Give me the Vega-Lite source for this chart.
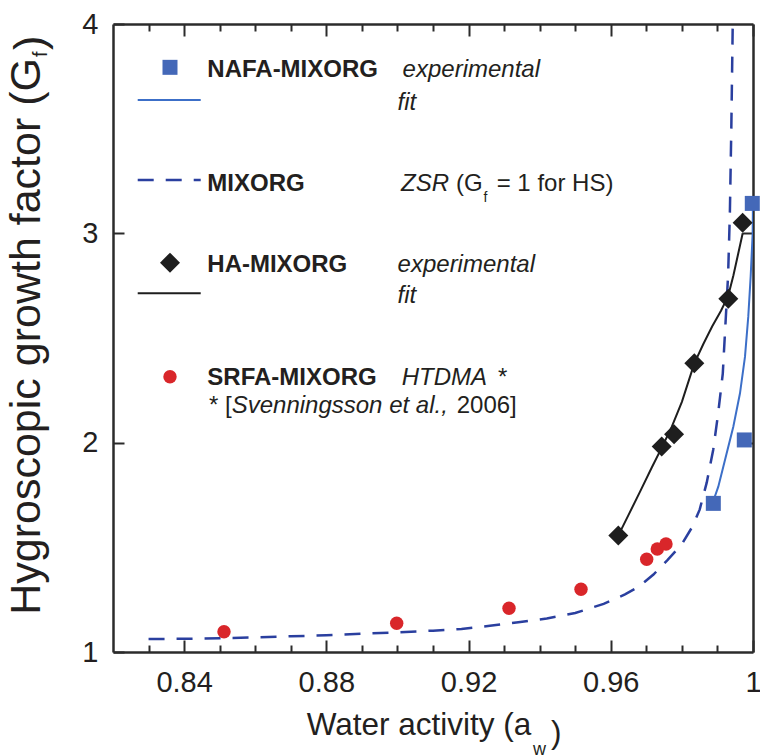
{
  "$schema": "https://vega.github.io/schema/vega-lite/v6.json",
  "width": 640,
  "height": 628,
  "autosize": "none",
  "padding": {"left": 113, "top": 24, "right": 7, "bottom": 104},
  "background": "white",
  "config": {
    "view": {"stroke": null},
    "font": "Liberation Sans",
    "axis": {
      "domainColor": "#2b2b2b",
      "domainWidth": 2.5,
      "tickColor": "#2b2b2b",
      "tickWidth": 2,
      "labelFont": "Liberation Sans",
      "labelFontSize": 29,
      "labelColor": "#231f20",
      "grid": false,
      "title": null,
      "labelFlush": false,
      "labelOverlap": false
    }
  },
  "datasets": {
    "points": [
      {"series": "NAFA-MIXORG", "kind": "key", "aw": 0.83603, "gf": 3.793},
      {"series": "NAFA-MIXORG", "kind": "obs", "aw": 0.98884, "gf": 1.710},
      {"series": "NAFA-MIXORG", "kind": "obs", "aw": 0.99755, "gf": 2.013},
      {"series": "NAFA-MIXORG", "kind": "obs", "aw": 0.9998, "gf": 3.143},
      {"series": "HA-MIXORG", "kind": "key", "aw": 0.83603, "gf": 2.860},
      {"series": "HA-MIXORG", "kind": "obs", "aw": 0.96212, "gf": 1.556},
      {"series": "HA-MIXORG", "kind": "obs", "aw": 0.97432, "gf": 1.982},
      {"series": "HA-MIXORG", "kind": "obs", "aw": 0.97780, "gf": 2.040},
      {"series": "HA-MIXORG", "kind": "obs", "aw": 0.98349, "gf": 2.379},
      {"series": "HA-MIXORG", "kind": "obs", "aw": 0.99305, "gf": 2.688},
      {"series": "HA-MIXORG", "kind": "obs", "aw": 0.99709, "gf": 3.051},
      {"series": "SRFA-MIXORG", "kind": "key", "aw": 0.83603, "gf": 2.315},
      {"series": "SRFA-MIXORG", "kind": "obs", "aw": 0.85122, "gf": 1.097},
      {"series": "SRFA-MIXORG", "kind": "obs", "aw": 0.89979, "gf": 1.137},
      {"series": "SRFA-MIXORG", "kind": "obs", "aw": 0.93138, "gf": 1.209},
      {"series": "SRFA-MIXORG", "kind": "obs", "aw": 0.95163, "gf": 1.300},
      {"series": "SRFA-MIXORG", "kind": "obs", "aw": 0.9701, "gf": 1.443},
      {"series": "SRFA-MIXORG", "kind": "obs", "aw": 0.97308, "gf": 1.492},
      {"series": "SRFA-MIXORG", "kind": "obs", "aw": 0.97553, "gf": 1.516}
    ],
    "zsr": [
      {"seg": "key", "aw": 0.82695, "gf": 3.255},
      {"seg": "key", "aw": 0.84467, "gf": 3.255},
      {"seg": "curve", "aw": 0.830, "gf": 1.062},
      {"seg": "curve", "aw": 0.840, "gf": 1.063},
      {"seg": "curve", "aw": 0.850, "gf": 1.066},
      {"seg": "curve", "aw": 0.860, "gf": 1.070},
      {"seg": "curve", "aw": 0.870, "gf": 1.075},
      {"seg": "curve", "aw": 0.880, "gf": 1.080},
      {"seg": "curve", "aw": 0.890, "gf": 1.087},
      {"seg": "curve", "aw": 0.900, "gf": 1.094},
      {"seg": "curve", "aw": 0.910, "gf": 1.102},
      {"seg": "curve", "aw": 0.918, "gf": 1.110},
      {"seg": "curve", "aw": 0.926, "gf": 1.125},
      {"seg": "curve", "aw": 0.934, "gf": 1.142},
      {"seg": "curve", "aw": 0.942, "gf": 1.160},
      {"seg": "curve", "aw": 0.950, "gf": 1.186},
      {"seg": "curve", "aw": 0.958, "gf": 1.230},
      {"seg": "curve", "aw": 0.964, "gf": 1.275},
      {"seg": "curve", "aw": 0.968, "gf": 1.313},
      {"seg": "curve", "aw": 0.972, "gf": 1.370},
      {"seg": "curve", "aw": 0.976, "gf": 1.440},
      {"seg": "curve", "aw": 0.980, "gf": 1.515},
      {"seg": "curve", "aw": 0.983, "gf": 1.600},
      {"seg": "curve", "aw": 0.985, "gf": 1.680},
      {"seg": "curve", "aw": 0.987, "gf": 1.810},
      {"seg": "curve", "aw": 0.9888, "gf": 1.965},
      {"seg": "curve", "aw": 0.9902, "gf": 2.140},
      {"seg": "curve", "aw": 0.9915, "gf": 2.330},
      {"seg": "curve", "aw": 0.9922, "gf": 2.550},
      {"seg": "curve", "aw": 0.9930, "gf": 2.800},
      {"seg": "curve", "aw": 0.9935, "gf": 3.100},
      {"seg": "curve", "aw": 0.9939, "gf": 3.500},
      {"seg": "curve", "aw": 0.9943, "gf": 4.000}
    ],
    "nafaFit": [
      {"seg": "key", "aw": 0.82695, "gf": 3.637},
      {"seg": "key", "aw": 0.84467, "gf": 3.637},
      {"seg": "curve", "aw": 0.98866, "gf": 1.713},
      {"seg": "curve", "aw": 0.99024, "gf": 1.790},
      {"seg": "curve", "aw": 0.99212, "gf": 1.917},
      {"seg": "curve", "aw": 0.99446, "gf": 2.076},
      {"seg": "curve", "aw": 0.99634, "gf": 2.236},
      {"seg": "curve", "aw": 0.99775, "gf": 2.411},
      {"seg": "curve", "aw": 0.99867, "gf": 2.602},
      {"seg": "curve", "aw": 0.99934, "gf": 2.793},
      {"seg": "curve", "aw": 0.99991, "gf": 3.000},
      {"seg": "curve", "aw": 0.99998, "gf": 3.143}
    ],
    "haFit": [
      {"seg": "key", "aw": 0.82695, "gf": 2.7135},
      {"seg": "key", "aw": 0.84467, "gf": 2.7135},
      {"seg": "curve", "aw": 0.9621, "gf": 1.556},
      {"seg": "curve", "aw": 0.9650, "gf": 1.655},
      {"seg": "curve", "aw": 0.9682, "gf": 1.765},
      {"seg": "curve", "aw": 0.9715, "gf": 1.880},
      {"seg": "curve", "aw": 0.9743, "gf": 1.975},
      {"seg": "curve", "aw": 0.9770, "gf": 2.070},
      {"seg": "curve", "aw": 0.9800, "gf": 2.195},
      {"seg": "curve", "aw": 0.9835, "gf": 2.379},
      {"seg": "curve", "aw": 0.9860, "gf": 2.470},
      {"seg": "curve", "aw": 0.9885, "gf": 2.555},
      {"seg": "curve", "aw": 0.9910, "gf": 2.630},
      {"seg": "curve", "aw": 0.9930, "gf": 2.700},
      {"seg": "curve", "aw": 0.9945, "gf": 2.800},
      {"seg": "curve", "aw": 0.9958, "gf": 2.900},
      {"seg": "curve", "aw": 0.9971, "gf": 3.000}
    ],
    "labels": [
      {"part": "name", "aw": 0.84652, "gf": 3.7474, "text": "NAFA-MIXORG"},
      {"part": "name", "aw": 0.84652, "gf": 3.2038, "text": "MIXORG"},
      {"part": "name", "aw": 0.84652, "gf": 2.814, "text": "HA-MIXORG"},
      {"part": "name", "aw": 0.84652, "gf": 2.2755, "text": "SRFA-MIXORG"},
      {"part": "method", "aw": 0.90145, "gf": 3.7474, "text": "experimental"},
      {"part": "method", "aw": 0.90004, "gf": 3.589, "text": "fit"},
      {"part": "method", "aw": 0.90100, "gf": 3.2038, "text": "ZSR"},
      {"part": "method", "aw": 0.90004, "gf": 2.814, "text": "experimental"},
      {"part": "method", "aw": 0.90004, "gf": 2.666, "text": "fit"},
      {"part": "method", "aw": 0.90120, "gf": 2.2755, "text": "HTDMA"},
      {"part": "method", "aw": 0.85338, "gf": 2.1401, "text": "Svenningsson et al.,"},
      {"part": "plain", "aw": 0.91647, "gf": 3.2038, "text": "(G"},
      {"part": "sub", "aw": 0.92420, "gf": 3.151, "text": "f"},
      {"part": "plain", "aw": 0.92791, "gf": 3.2038, "text": "= 1 for HS)"},
      {"part": "plain", "aw": 0.92828, "gf": 2.2755, "text": "*"},
      {"part": "plain", "aw": 0.84700, "gf": 2.1401, "text": "* ["},
      {"part": "plain", "aw": 0.91667, "gf": 2.1401, "text": "2006]"}
    ],
    "titles": [
      {"part": "x", "aw": 0.87448, "gf": 0.6035, "text": "Water activity (a"},
      {"part": "xsub", "aw": 0.93813, "gf": 0.508, "text": "w"},
      {"part": "x", "aw": 0.94319, "gf": 0.5653, "text": ")"},
      {"part": "y", "aw": 0.79947, "gf": 3.8376, "text": "Hygroscopic growth factor (G"},
      {"part": "ysub", "aw": 0.80144, "gf": 3.8424, "text": "f"},
      {"part": "yclose", "aw": 0.80059, "gf": 3.8758, "text": ")"}
    ]
  },
  "resolve": {"axis": {"x": "independent", "y": "independent"}},
  "layer": [
    {
      "data": {"name": "zsr"},
      "mark": {"type": "line", "color": "#2a3f9f", "strokeWidth": 2.5, "strokeDash": [16, 12], "clip": true},
      "encoding": {
        "x": {
          "field": "aw", "type": "quantitative",
          "scale": {"domain": [0.82, 1.0], "nice": false, "zero": false},
          "axis": {
            "orient": "bottom",
            "values": [0.83, 0.84, 0.85, 0.86, 0.87, 0.88, 0.89, 0.9, 0.91, 0.92, 0.93, 0.94, 0.95, 0.96, 0.97, 0.98, 0.99, 1.0],
            "labelExpr": "indexof(['0.84','0.88','0.92','0.96'], format(datum.value, '.2f')) >= 0 ? format(datum.value, '.2f') : (datum.value > 0.999 ? '1' : '')",
            "tickSize": {"condition": {"test": "indexof(['0.84','0.88','0.92','0.96','1.00'], format(datum.value, '.2f')) >= 0", "value": -12}, "value": -7},
            "labelPadding": 28
          }
        },
        "y": {
          "field": "gf", "type": "quantitative",
          "scale": {"domain": [1, 4], "nice": false, "zero": false},
          "axis": {
            "orient": "left",
            "values": [1, 2, 3, 4],
            "tickSize": -11,
            "labelPadding": 26,
            "format": "d"
          }
        },
        "detail": {"field": "seg"}
      }
    },
    {
      "data": {"name": "haFit"},
      "mark": {"type": "line", "color": "#1e1e1e", "strokeWidth": 2, "clip": true},
      "encoding": {
        "x": {
          "field": "aw", "type": "quantitative",
          "scale": {"domain": [0.82, 1.0], "nice": false, "zero": false},
          "axis": {
            "orient": "top",
            "values": [0.83, 0.84, 0.85, 0.86, 0.87, 0.88, 0.89, 0.9, 0.91, 0.92, 0.93, 0.94, 0.95, 0.96, 0.97, 0.98, 0.99, 1.0],
            "labels": false,
            "tickSize": {"condition": {"test": "indexof(['0.84','0.88','0.92','0.96','1.00'], format(datum.value, '.2f')) >= 0", "value": -12}, "value": -7}
          }
        },
        "y": {
          "field": "gf", "type": "quantitative",
          "scale": {"domain": [1, 4], "nice": false, "zero": false},
          "axis": {"orient": "right", "values": [2, 3], "labels": false, "tickSize": -11}
        },
        "detail": {"field": "seg"}
      }
    },
    {
      "data": {"name": "nafaFit"},
      "mark": {"type": "line", "color": "#3c6fc8", "strokeWidth": 2, "clip": true},
      "encoding": {
        "x": {"field": "aw", "type": "quantitative", "scale": {"domain": [0.82, 1.0], "nice": false, "zero": false}, "axis": null},
        "y": {"field": "gf", "type": "quantitative", "scale": {"domain": [1, 4], "nice": false, "zero": false}, "axis": null},
        "detail": {"field": "seg"}
      }
    },
    {
      "data": {"name": "points"},
      "transform": [{"filter": "datum.series == 'NAFA-MIXORG'"}],
      "mark": {"type": "point", "shape": "square", "size": 225, "filled": true, "opacity": 1, "strokeWidth": 0, "color": "#4468b8"},
      "encoding": {
        "x": {"field": "aw", "type": "quantitative", "axis": null},
        "y": {"field": "gf", "type": "quantitative", "axis": null}
      }
    },
    {
      "data": {"name": "points"},
      "transform": [{"filter": "datum.series == 'HA-MIXORG'"}],
      "mark": {"type": "point", "shape": "diamond", "size": 400, "filled": true, "opacity": 1, "strokeWidth": 0, "color": "#1e1e1e"},
      "encoding": {
        "x": {"field": "aw", "type": "quantitative", "axis": null},
        "y": {"field": "gf", "type": "quantitative", "axis": null}
      }
    },
    {
      "data": {"name": "points"},
      "transform": [{"filter": "datum.series == 'SRFA-MIXORG'"}],
      "mark": {"type": "point", "shape": "circle", "size": 180, "filled": true, "opacity": 1, "strokeWidth": 0, "color": "#d9262a"},
      "encoding": {
        "x": {"field": "aw", "type": "quantitative", "axis": null},
        "y": {"field": "gf", "type": "quantitative", "axis": null}
      }
    },
    {
      "data": {"name": "labels"},
      "transform": [{"filter": "datum.part == 'name'"}],
      "mark": {"type": "text", "align": "left", "baseline": "alphabetic", "fontSize": 24, "fontWeight": "bold", "color": "#231f20"},
      "encoding": {
        "x": {"field": "aw", "type": "quantitative", "axis": null},
        "y": {"field": "gf", "type": "quantitative", "axis": null},
        "text": {"field": "text"}
      }
    },
    {
      "data": {"name": "labels"},
      "transform": [{"filter": "datum.part == 'method'"}],
      "mark": {"type": "text", "align": "left", "baseline": "alphabetic", "fontSize": 24, "fontStyle": "italic", "color": "#231f20"},
      "encoding": {
        "x": {"field": "aw", "type": "quantitative", "axis": null},
        "y": {"field": "gf", "type": "quantitative", "axis": null},
        "text": {"field": "text"}
      }
    },
    {
      "data": {"name": "labels"},
      "transform": [{"filter": "datum.part == 'plain'"}],
      "mark": {"type": "text", "align": "left", "baseline": "alphabetic", "fontSize": 24, "color": "#231f20"},
      "encoding": {
        "x": {"field": "aw", "type": "quantitative", "axis": null},
        "y": {"field": "gf", "type": "quantitative", "axis": null},
        "text": {"field": "text"}
      }
    },
    {
      "data": {"name": "labels"},
      "transform": [{"filter": "datum.part == 'sub'"}],
      "mark": {"type": "text", "align": "left", "baseline": "alphabetic", "fontSize": 14, "color": "#231f20"},
      "encoding": {
        "x": {"field": "aw", "type": "quantitative", "axis": null},
        "y": {"field": "gf", "type": "quantitative", "axis": null},
        "text": {"field": "text"}
      }
    },
    {
      "data": {"name": "titles"},
      "transform": [{"filter": "datum.part == 'x'"}],
      "mark": {"type": "text", "align": "left", "baseline": "alphabetic", "fontSize": 31.5, "color": "#231f20"},
      "encoding": {
        "x": {"field": "aw", "type": "quantitative", "axis": null},
        "y": {"field": "gf", "type": "quantitative", "axis": null},
        "text": {"field": "text"}
      }
    },
    {
      "data": {"name": "titles"},
      "transform": [{"filter": "datum.part == 'xsub'"}],
      "mark": {"type": "text", "align": "left", "baseline": "alphabetic", "fontSize": 18, "color": "#231f20"},
      "encoding": {
        "x": {"field": "aw", "type": "quantitative", "axis": null},
        "y": {"field": "gf", "type": "quantitative", "axis": null},
        "text": {"field": "text"}
      }
    },
    {
      "data": {"name": "titles"},
      "transform": [{"filter": "datum.part == 'y'"}],
      "mark": {"type": "text", "align": "right", "baseline": "alphabetic", "angle": 270, "fontSize": 43, "color": "#231f20"},
      "encoding": {
        "x": {"field": "aw", "type": "quantitative", "axis": null},
        "y": {"field": "gf", "type": "quantitative", "axis": null},
        "text": {"field": "text"}
      }
    },
    {
      "data": {"name": "titles"},
      "transform": [{"filter": "datum.part == 'ysub'"}],
      "mark": {"type": "text", "align": "left", "baseline": "alphabetic", "angle": 270, "fontSize": 20, "color": "#231f20"},
      "encoding": {
        "x": {"field": "aw", "type": "quantitative", "axis": null},
        "y": {"field": "gf", "type": "quantitative", "axis": null},
        "text": {"field": "text"}
      }
    },
    {
      "data": {"name": "titles"},
      "transform": [{"filter": "datum.part == 'yclose'"}],
      "mark": {"type": "text", "align": "left", "baseline": "alphabetic", "angle": 270, "fontSize": 43, "color": "#231f20"},
      "encoding": {
        "x": {"field": "aw", "type": "quantitative", "axis": null},
        "y": {"field": "gf", "type": "quantitative", "axis": null},
        "text": {"field": "text"}
      }
    }
  ]
}
